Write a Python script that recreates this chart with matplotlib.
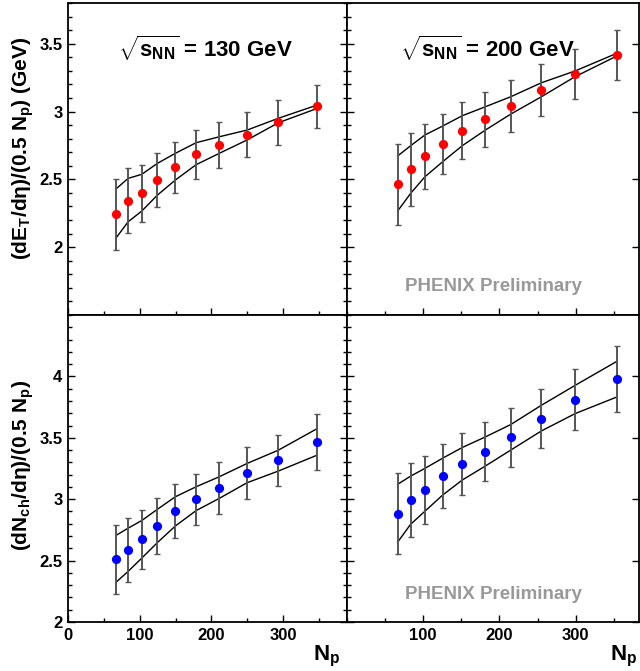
import matplotlib
matplotlib.use('Agg')
import matplotlib.pyplot as plt
from matplotlib.ticker import MultipleLocator, FixedLocator, FormatStrFormatter

plt.rcParams['font.family'] = ['Liberation Sans', 'DejaVu Sans']
plt.rcParams['font.weight'] = 'bold'
plt.rcParams['mathtext.fontset'] = 'custom'
plt.rcParams['mathtext.rm'] = 'Liberation Sans:bold'
plt.rcParams['mathtext.bf'] = 'Liberation Sans:bold'
plt.rcParams['mathtext.it'] = 'Liberation Sans:bold'
plt.rcParams['mathtext.default'] = 'bf'

# --- data: 130 GeV ---
np_130 = [66.6, 83.8, 102.8, 124.7, 149.7, 178.6, 211.0, 249.6, 293.2, 347.5]
et_130 = [2.242, 2.342, 2.399, 2.497, 2.588, 2.686, 2.753, 2.829, 2.920, 3.038]
et_130_err = [0.26, 0.24, 0.21, 0.20, 0.19, 0.18, 0.17, 0.165, 0.165, 0.16]
et_130_hi = [2.428, 2.507, 2.537, 2.618, 2.692, 2.770, 2.814, 2.863, 2.950, 3.048]
et_130_lo = [2.065, 2.187, 2.266, 2.384, 2.495, 2.608, 2.692, 2.790, 2.917, 3.023]

nch_130 = [2.512, 2.588, 2.674, 2.782, 2.902, 2.999, 3.091, 3.213, 3.316, 3.464]
nch_130_err = [0.28, 0.26, 0.24, 0.23, 0.22, 0.21, 0.21, 0.21, 0.21, 0.23]
nch_130_hi = [2.704, 2.764, 2.826, 2.918, 3.020, 3.101, 3.183, 3.291, 3.399, 3.575]
nch_130_lo = [2.322, 2.412, 2.520, 2.647, 2.782, 2.907, 3.007, 3.134, 3.229, 3.359]

# --- data: 200 GeV ---
np_200 = [66.4, 83.5, 102.2, 125.5, 151.2, 181.4, 214.8, 255.0, 299.2, 353.8]
et_200 = [2.463, 2.574, 2.669, 2.762, 2.858, 2.942, 3.040, 3.158, 3.276, 3.417]
et_200_err = [0.30, 0.27, 0.24, 0.22, 0.21, 0.20, 0.19, 0.19, 0.185, 0.185]
et_200_hi = [2.672, 2.748, 2.827, 2.893, 2.969, 3.035, 3.109, 3.212, 3.299, 3.429]
et_200_lo = [2.266, 2.397, 2.519, 2.630, 2.748, 2.863, 2.981, 3.109, 3.257, 3.409]

nch_200 = [2.880, 2.991, 3.075, 3.186, 3.286, 3.386, 3.505, 3.657, 3.811, 3.981]
nch_200_err = [0.33, 0.30, 0.28, 0.26, 0.25, 0.24, 0.24, 0.24, 0.25, 0.27]
nch_200_hi = [3.121, 3.188, 3.251, 3.334, 3.421, 3.507, 3.608, 3.765, 3.927, 4.122]
nch_200_lo = [2.650, 2.796, 2.902, 3.034, 3.156, 3.270, 3.400, 3.556, 3.697, 3.832]

W, H = 640, 671
fig = plt.figure(figsize=(W / 100, H / 100), dpi=100)


def px_axes(x0, y0, x1, y1):
    return fig.add_axes([x0 / W, 1 - y1 / H, (x1 - x0) / W, (y1 - y0) / H])


ax_tl = px_axes(68, 3, 347, 315)
ax_tr = px_axes(347, 3, 639, 315)
ax_bl = px_axes(68, 315, 347, 622)
ax_br = px_axes(347, 315, 639, 622)


def draw(ax, x, y, err, lo, hi, color):
    ax.plot(x, hi, color='black', lw=1.0, zorder=2)
    ax.plot(x, lo, color='black', lw=1.0, zorder=2)
    line, caps, bars = ax.errorbar(x, y, yerr=err, fmt='o', color=color, ms=5.6,
                                   ecolor='#555555', elinewidth=1.4, capsize=2,
                                   capthick=1.0, zorder=3)
    for c in caps:
        c.set_color('black')


draw(ax_tl, np_130, et_130, et_130_err, et_130_lo, et_130_hi, '#ff0000')
draw(ax_tr, np_200, et_200, et_200_err, et_200_lo, et_200_hi, '#ff0000')
draw(ax_bl, np_130, nch_130, nch_130_err, nch_130_lo, nch_130_hi, '#0000ff')
draw(ax_br, np_200, nch_200, nch_200_err, nch_200_lo, nch_200_hi, '#0000ff')

for ax in [ax_tl, ax_tr, ax_bl, ax_br]:
    for s in ax.spines.values():
        s.set_linewidth(1.3)
    ax.tick_params(which='both', direction='in', top=False, right=True,
                   width=1.0, labelsize=12, pad=4)
    ax.tick_params(which='major', length=5)
    ax.tick_params(which='minor', length=3)
    ax.xaxis.set_minor_locator(MultipleLocator(50))
    ax.yaxis.set_minor_locator(MultipleLocator(0.1))
    ax.yaxis.set_major_formatter(FormatStrFormatter('%g'))

ax_tl.set_xlim(0, 389)
ax_bl.set_xlim(0, 389)
ax_tr.set_xlim(0, 383)
ax_br.set_xlim(0, 383)
ax_tl.set_ylim(1.5, 3.8)
ax_tr.set_ylim(1.5, 3.8)
ax_bl.set_ylim(2, 4.5)
ax_br.set_ylim(2, 4.5)

ax_tl.yaxis.set_major_locator(FixedLocator([2, 2.5, 3, 3.5]))
ax_tr.yaxis.set_major_locator(FixedLocator([2, 2.5, 3, 3.5]))
ax_bl.yaxis.set_major_locator(FixedLocator([2, 2.5, 3, 3.5, 4]))
ax_br.yaxis.set_major_locator(FixedLocator([2, 2.5, 3, 3.5, 4]))
ax_bl.xaxis.set_major_locator(FixedLocator([0, 100, 200, 300]))
ax_tl.xaxis.set_major_locator(FixedLocator([0, 100, 200, 300]))
ax_br.xaxis.set_major_locator(FixedLocator([100, 200, 300]))
ax_tr.xaxis.set_major_locator(FixedLocator([100, 200, 300]))

ax_tl.tick_params(labelbottom=False)
ax_tr.tick_params(labelbottom=False, labelleft=False)
ax_br.tick_params(labelleft=False)
ax_tr.tick_params(which='minor', right=False)
ax_br.tick_params(which='minor', right=False)

for ax, lbl in [(ax_tl, '130'), (ax_tr, '200')]:
    ax.text(0.18, 0.825, r'$\sqrt{s_{NN}}$ = ' + lbl + ' GeV', transform=ax.transAxes,
            fontsize=16, fontweight='bold', ha='left', va='baseline')

for ax in [ax_tr, ax_br]:
    ax.text(0.5, 0.09, 'PHENIX Preliminary', transform=ax.transAxes, color='#999999',
            fontsize=13.5, fontweight='bold', ha='center', va='center')

fig.text(23 / W, 1 - 148 / H, r'(dE$_T$/d$\eta$)/(0.5 N$_p$) (GeV)', rotation=90,
         ha='center', va='center', fontsize=15, fontweight='bold')
fig.text(23 / W, 1 - 465 / H, r'(dN$_{ch}$/d$\eta$)/(0.5 N$_p$)', rotation=90,
         ha='center', va='center', fontsize=15, fontweight='bold')

fig.text(340 / W, 1 - 656 / H, r'N$_p$', ha='right', va='center', fontsize=16, fontweight='bold')
fig.text(637 / W, 1 - 656 / H, r'N$_p$', ha='right', va='center', fontsize=16, fontweight='bold')

fig.savefig('out.png', dpi=100)
